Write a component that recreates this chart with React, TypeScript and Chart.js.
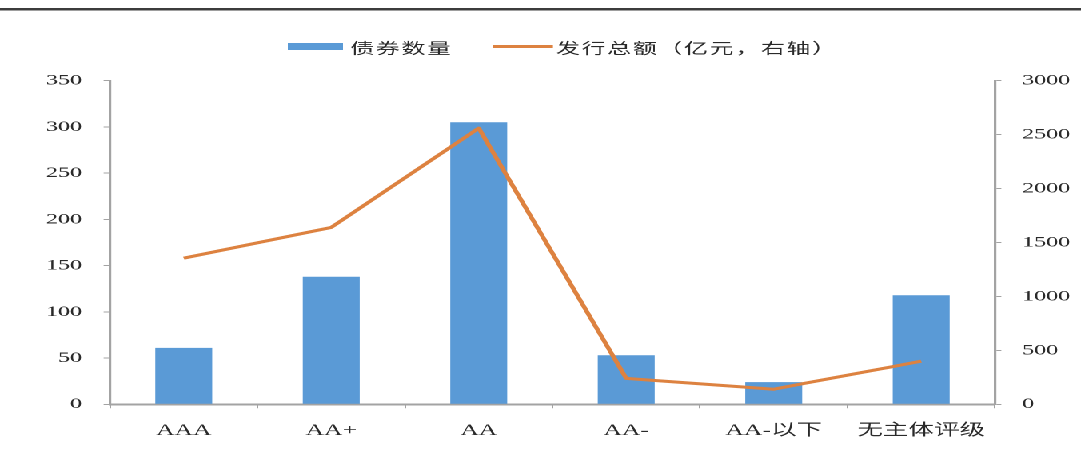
import React, { useEffect, useRef } from "react";
import { Chart, registerables } from "chart.js";

Chart.register(...registerables);

// Rating categories
const categories = ["AAA", "AA+", "AA", "AA-", "AA-以下", "无主体评级"];
// Number of bonds (left axis)
const bondCounts = [61, 138, 305, 53, 24, 118];
// Total issuance, 100 million yuan (right axis)
const issuance = [1355, 1640, 2560, 240, 140, 400];

const countTicks = [0, 50, 100, 150, 200, 250, 300, 350];
const amountTicks = [0, 500, 1000, 1500, 2000, 2500, 3000];

const legendBar = "债券数量";
const legendLine = "发行总额（亿元，右轴）";

const BAR_COLOR = "#5A9AD6";
const LINE_COLOR = "#DD8240";
const AXIS_COLOR = "#a3a3a3";
const TEXT_COLOR = "#2a2a2a";

// The chart is laid out on a narrow canvas and widened horizontally.
const INNER_W = 676;
const H = 469;
const STRETCH = 1081 / INNER_W;

const SERIF = '"Liberation Serif", "Times New Roman", "Noto Sans CJK SC", serif';
const CJK = '"Noto Sans CJK SC", "Noto Sans CJK TC", sans-serif';

const chromePlugin = {
  id: "chrome",
  afterDraw(chart: any) {
    const ctx = chart.ctx as CanvasRenderingContext2D;
    ctx.save();
    // heading rule
    ctx.fillStyle = "#3c3c3c";
    ctx.fillRect(0, 8, INNER_W, 2.5);

    // legend
    ctx.fillStyle = BAR_COLOR;
    ctx.fillRect(180, 43, 34.5, 7);
    ctx.font = `15px ${CJK}`;
    (ctx as any).letterSpacing = "1px";
    ctx.textBaseline = "middle";
    ctx.textAlign = "left";
    ctx.fillStyle = TEXT_COLOR;
    ctx.fillText(legendBar, 219, 48);

    ctx.strokeStyle = LINE_COLOR;
    ctx.lineWidth = 3;
    ctx.beginPath();
    ctx.moveTo(308.3, 46.5);
    ctx.lineTo(345.8, 46.5);
    ctx.stroke();
    ctx.fillStyle = TEXT_COLOR;
    ctx.fillText(legendLine, 347.7, 48);
    ctx.restore();
  },
};

export default function App() {
  const canvasRef = useRef<HTMLCanvasElement | null>(null);

  useEffect(() => {
    const canvas = canvasRef.current;
    if (!canvas) return;
    const chart = new Chart(canvas, {
      type: "bar",
      data: {
        labels: categories,
        datasets: [
          {
            type: "line",
            label: legendLine,
            data: issuance,
            yAxisID: "y1",
            borderColor: LINE_COLOR,
            backgroundColor: LINE_COLOR,
            borderWidth: 3,
            pointRadius: 0,
            tension: 0,
            borderJoinStyle: "round",
            order: 0,
          } as any,
          {
            type: "bar",
            label: legendBar,
            data: bondCounts,
            yAxisID: "y",
            backgroundColor: BAR_COLOR,
            barPercentage: 0.386,
            categoryPercentage: 1,
            order: 1,
          },
        ],
      },
      options: {
        responsive: false,
        animation: false,
        devicePixelRatio: 2,
        layout: { padding: { top: 80.7, left: 0, right: 0, bottom: 0 } },
        plugins: {
          legend: { display: false },
          tooltip: { enabled: false },
          title: { display: false },
        },
        scales: {
          x: {
            grid: {
              display: true,
              drawOnChartArea: false,
              drawTicks: true,
              tickLength: 4,
              color: AXIS_COLOR,
              offset: true,
            },
            border: { display: true, color: AXIS_COLOR, width: 2 },
            ticks: {
              padding: 13,
              color: TEXT_COLOR,
              font: { family: SERIF, size: 16 },
              maxRotation: 0,
              autoSkip: false,
            },
            afterFit: (scale: any) => {
              scale.height = H - 404.3;
            },
          },
          y: {
            position: "left",
            min: 0,
            max: 350,
            afterBuildTicks: (scale: any) => {
              scale.ticks = countTicks.map((v) => ({ value: v }));
            },
            grid: {
              display: true,
              drawOnChartArea: false,
              drawTicks: true,
              tickLength: 4,
              color: AXIS_COLOR,
            },
            border: { display: true, color: AXIS_COLOR, width: 1.6 },
            ticks: {
              padding: 13.5,
              color: TEXT_COLOR,
              font: { family: SERIF, size: 15 },
              callback: (v: any) => String(v),
            },
            afterFit: (scale: any) => {
              scale.width = 68.8;
            },
          },
          y1: {
            position: "right",
            min: 0,
            max: 3000,
            afterBuildTicks: (scale: any) => {
              scale.ticks = amountTicks.map((v) => ({ value: v }));
            },
            grid: {
              display: true,
              drawOnChartArea: false,
              drawTicks: true,
              tickLength: 4,
              color: AXIS_COLOR,
            },
            border: { display: true, color: AXIS_COLOR, width: 1.6 },
            ticks: {
              padding: 13,
              color: TEXT_COLOR,
              font: { family: SERIF, size: 15 },
              callback: (v: any) => String(v),
            },
            afterFit: (scale: any) => {
              scale.width = INNER_W - 622.2;
            },
          },
        },
      },
      plugins: [chromePlugin],
    });
    return () => chart.destroy();
  }, []);

  return (
    <div
      style={{
        position: "fixed",
        left: 0,
        top: 0,
        width: INNER_W,
        height: H,
        background: "#ffffff",
        transform: `scaleX(${STRETCH})`,
        transformOrigin: "0 0",
      }}
    >
      <canvas
        ref={canvasRef}
        width={INNER_W}
        height={H}
        style={{ width: INNER_W, height: H, display: "block" }}
      />
    </div>
  );
}
